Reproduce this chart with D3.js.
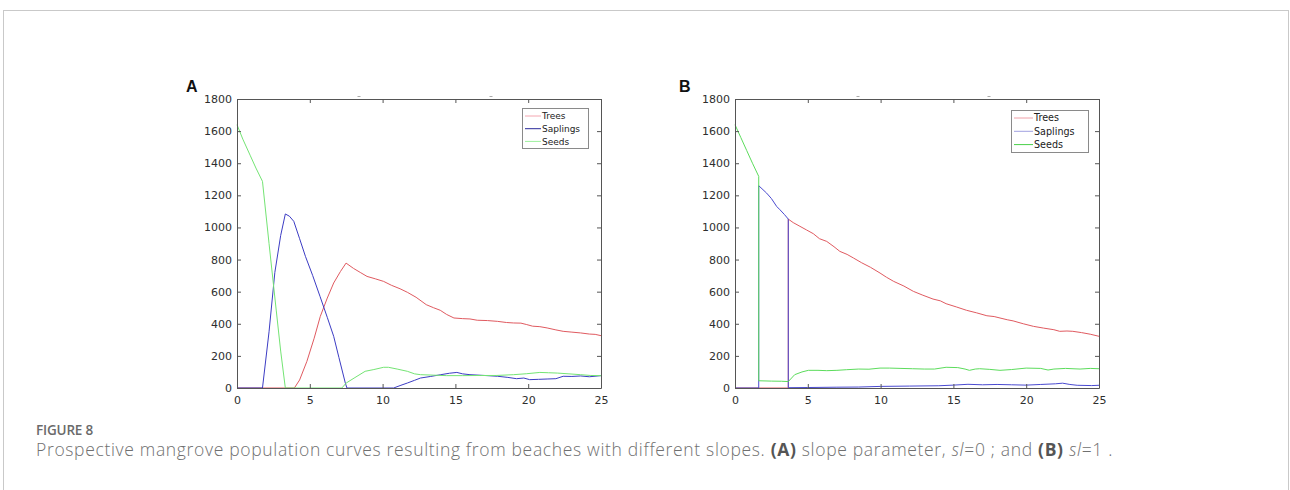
<!DOCTYPE html>
<html>
<head>
<meta charset="utf-8">
<script src="https://cdn.jsdelivr.net/npm/d3@7"></script>
<style>
  html, body { margin: 0; padding: 0; background: #fff; }
  svg { display: block; }
</style>
</head>
<body>
<svg id="chart" width="1290" height="490"></svg>
<script>
// ---------- DATA ----------
const seriesNames = ["Trees", "Saplings", "Seeds"];
const xTicks = [0, 5, 10, 15, 20, 25];
const yTicks = [0, 200, 400, 600, 800, 1000, 1200, 1400, 1600, 1800];

// Panel A (sl = 0): [time, population]
const aTrees = [[0,0],[3.94,0],[4.3,50],[4.8,166],[5.3,310],[5.72,446],[6.2,560],[6.64,654],[7.1,725],[7.49,778],[8,745],[8.5,718],[8.93,695],[9.5,680],[10.07,664],[10.6,640],[11.2,618],[11.7,596],[12.3,565],[13,519],[13.5,500],[13.96,484],[14.4,458],[14.9,436],[15.5,432],[16,430],[16.5,422],[17.2,420],[17.9,415],[18.5,408],[19,405],[19.5,404],[19.9,395],[20.3,385],[20.8,382],[21.3,374],[21.9,362],[22.4,353],[23,348],[23.6,343],[24.2,336],[24.6,334],[25,326]];
const aSaplings = [[0,0],[1.75,0],[2.2,350],[2.6,720],[3.0,950],[3.32,1084],[3.6,1070],[3.9,1038],[4.3,930],[4.7,820],[5.2,700],[5.7,571],[6.2,440],[6.64,322],[7.0,190],[7.44,31],[7.55,0],[10.76,0],[11.2,15],[11.7,31],[12.2,48],[12.6,62],[13.3,72],[14,83],[14.6,92],[15.1,97],[15.5,88],[16,83],[17,78],[17.9,73],[18.6,66],[19.2,58],[19.7,62],[20.1,52],[20.7,54],[21.3,56],[21.9,58],[22.4,73],[23,72],[23.6,75],[24.2,70],[25,77]];
const aSeeds = [[0,1640],[0.4,1550],[0.9,1450],[1.3,1370],[1.75,1287],[2.2,900],[2.7,480],[3.0,230],[3.32,0],[7.2,0],[7.5,31],[8.1,65],[8.8,104],[9.4,115],[10.07,129],[10.4,129],[11,118],[11.7,104],[12.2,88],[12.6,83],[13.5,80],[14.4,77],[15.5,77],[16.7,78],[17.8,78],[19,83],[19.9,89],[20.8,97],[21.4,95],[22,93],[22.8,88],[23.6,83],[24.3,78],[25,77]];

// Panel B (sl = 1)
const bTrees = [[0,0],[3.66,0],[3.66,1052],[4,1030],[4.46,1007],[4.9,985],[5.38,961],[5.8,930],[6.3,913],[6.8,880],[7.2,851],[7.7,832],[8.13,810],[8.7,780],[9.3,752],[9.96,716],[10.4,690],[10.9,664],[11.6,635],[12.25,602],[12.9,578],[13.6,554],[14.1,543],[14.5,525],[15.2,505],[15.9,484],[16.6,468],[17.3,450],[17.8,445],[18.2,436],[18.7,425],[19.1,418],[19.8,400],[20.5,384],[21.2,373],[21.9,363],[22.3,353],[22.8,355],[23.2,353],[23.8,345],[24.4,335],[25,322]];
const bSaplings = [[0,0],[1.63,0],[1.63,1260],[2.17,1214],[2.5,1180],[2.86,1131],[3.09,1110],[3.4,1080],[3.66,1052],[3.66,2],[5,3],[7,5],[8.5,6],[10,10],[12,12],[14,14],[15,18],[16,23],[17,20],[18,22],[19,20],[20,18],[21,22],[22,26],[22.5,30],[23,22],[23.5,17],[24.5,15],[25,17]];
const bSeeds = [[0,1640],[0.4,1560],[0.8,1480],[1.2,1400],[1.63,1318],[1.63,45],[2.5,43],[3.2,42],[3.66,40],[4.1,83],[4.6,100],[5.04,110],[5.7,110],[6.3,108],[7,110],[7.67,114],[8.5,118],[9.2,117],[9.96,124],[10.6,124],[11.4,122],[12.2,120],[13,118],[13.7,118],[14.5,129],[15.3,127],[15.8,118],[16.1,110],[16.5,118],[16.8,120],[17.5,116],[18.2,110],[19,115],[20,124],[21,122],[21.5,112],[21.9,118],[22.7,122],[23.7,118],[24.4,122],[25,120]];

// ---------- LAYOUT ----------
const svg = d3.select("#chart");

// outer figure frame
svg.append("rect").attr("x", 3.5).attr("y", 10.5).attr("width", 1285).attr("height", 520)
  .attr("fill", "none").attr("stroke", "#c9c9c9").attr("stroke-width", 1);

const panels = [
  { label: "A", left: 237, right: 601, labelX: 186,
    data: [aTrees, aSaplings, aSeeds],
    colors: ["#e05a60", "#3c3cc4", "#74e474"],
    legendColors: ["#f4a6b0", "#2a2a9a", "#9cf09c"],
    legend: { x: 522, y: 108, w: 66, h: 40, rowH: 12.7, lineW: 16, font: 9 },
    marks: [359, 491] },
  { label: "B", left: 735, right: 1099, labelX: 679,
    data: [bTrees, bSaplings, bSeeds],
    colors: ["#e05a60", "#4a4ad0", "#5cdc5c"],
    legendColors: ["#f0a0a8", "#a0a0e0", "#48d048"],
    legend: { x: 1011, y: 110, w: 77, h: 42, rowH: 13.3, lineW: 19, font: 9.6 },
    marks: [858, 989] }
];
const plotTop = 99, plotBottom = 388;

panels.forEach(p => {
  const g = svg.append("g");
  const x = d3.scaleLinear().domain([0, 25]).range([p.left, p.right]);
  const y = d3.scaleLinear().domain([0, 1800]).range([plotBottom, plotTop]);

  // tiny artifact marks above plot
  p.marks.forEach(mx => {
    g.append("line").attr("x1", mx - 1.5).attr("x2", mx + 1.5).attr("y1", 96.5).attr("y2", 96.5)
      .attr("stroke", "#aaa").attr("stroke-width", 1);
  });

  // lines
  const line = d3.line().x(d => x(d[0])).y(d => y(d[1]));
  p.data.forEach((ser, i) => {
    g.append("path").datum(ser).attr("d", line)
      .attr("fill", "none").attr("stroke", p.colors[i]).attr("stroke-width", 1)
      .attr("stroke-linejoin", "round");
  });

  // axes (MATLAB box, inward ticks)
  const fmt = d3.format("d");
  const axB = d3.axisBottom(x).tickValues(xTicks).tickFormat(fmt).tickSizeInner(-4).tickSizeOuter(0).tickPadding(8);
  const axT = d3.axisTop(x).tickValues(xTicks).tickSizeInner(-4).tickSizeOuter(0).tickFormat("");
  const axL = d3.axisLeft(y).tickValues(yTicks).tickFormat(fmt).tickSizeInner(-4).tickSizeOuter(0).tickPadding(5);
  const axR = d3.axisRight(y).tickValues(yTicks).tickSizeInner(-4).tickSizeOuter(0).tickFormat("");

  [[axB, `translate(0,${plotBottom})`], [axT, `translate(0,${plotTop})`],
   [axL, `translate(${p.left},0)`], [axR, `translate(${p.right},0)`]].forEach(([ax, tr]) => {
    const a = g.append("g").attr("transform", tr).call(ax)
      .attr("font-family", "DejaVu Sans").attr("font-size", 11);
    a.select(".domain").attr("stroke", "#555").attr("stroke-width", 1);
    a.selectAll(".tick line").attr("stroke", "#555");
    a.selectAll("text").attr("fill", "#2e2e2e");
  });

  // panel label
  g.append("text").attr("x", p.labelX).attr("y", 92).text(p.label)
    .attr("font-family", "Liberation Sans, Arial, sans-serif").attr("font-weight", "bold")
    .attr("font-size", 16).attr("fill", "#111");

  // legend
  const L = p.legend;
  g.append("rect").attr("x", L.x + 0.5).attr("y", L.y + 0.5).attr("width", L.w).attr("height", L.h)
    .attr("fill", "#fff").attr("stroke", "#8a8a8a").attr("stroke-width", 1);
  seriesNames.forEach((n, i) => {
    const ry = L.y + 8 + i * L.rowH;
    g.append("line").attr("x1", L.x + 3).attr("x2", L.x + 3 + L.lineW).attr("y1", ry).attr("y2", ry)
      .attr("stroke", p.legendColors[i]).attr("stroke-width", 1);
    g.append("text").attr("x", L.x + 4 + L.lineW).attr("y", ry).attr("dy", "0.35em")
      .text(n).attr("font-family", "DejaVu Sans").attr("font-size", L.font).attr("fill", "#222");
  });
});

// ---------- CAPTION ----------
function fitWidth(sel, target) {
  const n = sel.text().length;
  const w = sel.node().getComputedTextLength();
  sel.attr("letter-spacing", ((target - w) / n).toFixed(3));
}

const fig = svg.append("text").attr("x", 36).attr("y", 435).text("FIGURE 8")
  .attr("font-family", "Open Sans, sans-serif").attr("font-weight", 600)
  .attr("font-size", 13.5).attr("fill", "#6a6a6a");
fitWidth(fig, 57);

const cap = svg.append("text").attr("x", 36).attr("y", 456)
  .attr("font-family", "Open Sans, sans-serif").attr("font-weight", 300)
  .attr("font-size", 17.5).attr("fill", "#707070");
const parts = [
  ["Prospective mangrove population curves resulting from beaches with different slopes. ", ""],
  ["(A)", "b"], [" slope parameter, ", ""], ["sl", "i"], ["=0 ; and ", ""],
  ["(B)", "b"], [" ", ""], ["sl", "i"], ["=1 .", ""]
];
parts.forEach(([t, s]) => {
  const ts = cap.append("tspan").text(t);
  if (s === "b") ts.attr("font-weight", "bold").attr("fill", "#555");
  if (s === "i") ts.attr("font-style", "italic");
});
fitWidth(cap, 1077);
</script>
</body>
</html>
